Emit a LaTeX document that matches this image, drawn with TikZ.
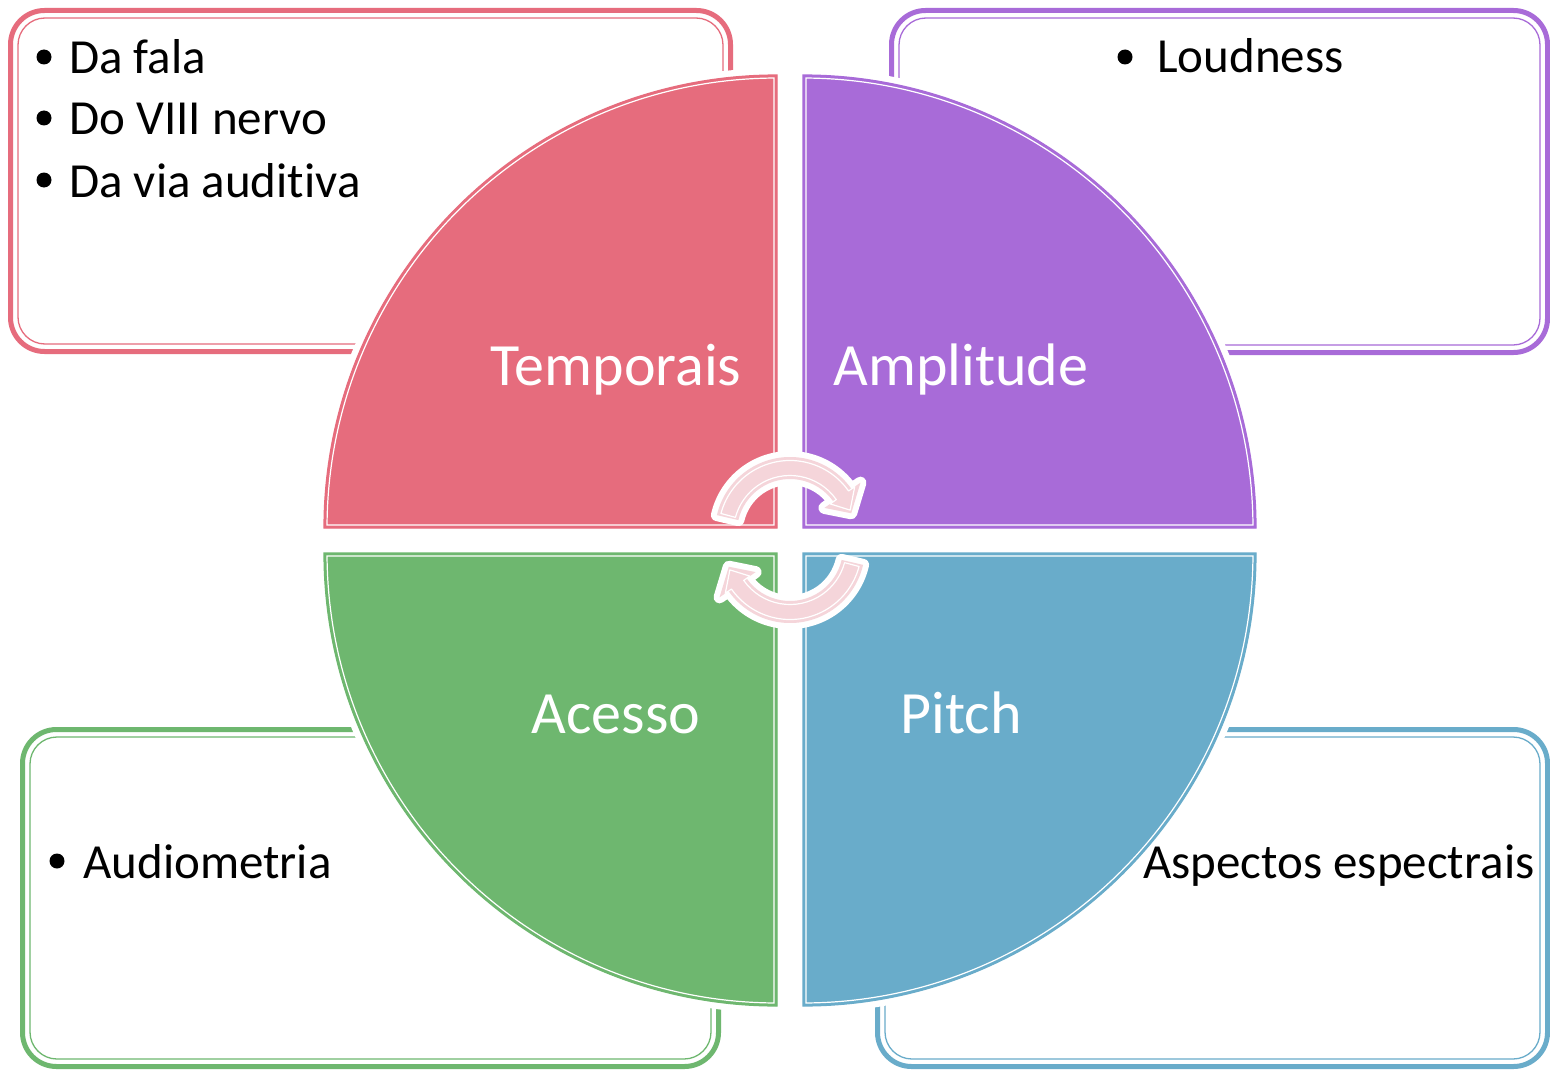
\documentclass[tikz,border=0pt]{standalone}
\usepackage{fontspec}
\setmainfont{Carlito}[Ligatures=NoCommon]
\usetikzlibrary{calc}

\definecolor{quadred}{HTML}{E66C7D}
\definecolor{quadpurple}{HTML}{A86BD8}
\definecolor{quadgreen}{HTML}{6EB76F}
\definecolor{quadblue}{HTML}{69ACCA}
\definecolor{arrowpink}{HTML}{F5D5DA}

\tikzset{
  boxtext/.style={anchor=base west, inner sep=0pt, text=black, font=\fontsize{49}{59}\selectfont},
  quadtext/.style={anchor=base, inner sep=0pt, text=white, font=\fontsize{60}{72}\selectfont},
  bulletdot/.style={circle, fill=black, inner sep=0pt, minimum size=15pt},
}

% rounded frame with a thick outer and a thin inner line
\newcommand\infobox[5]{%
  \draw[#1, line width=5pt, rounded corners=34pt] (#2+2.5,#3+2.5) rectangle (#4-2.5,#5-2.5);
  \draw[#1, line width=1.3pt, rounded corners=27pt] (#2+10,#3+10) rectangle (#4-10,#5-10);}

% quarter disc: apex, start angle, colour
\newcommand\quadrant[3]{%
  \path[draw=white, line width=14pt, line join=round]
    (#1) -- ($(#1)+(#2:453)$) arc[start angle=#2, end angle=#2+90, radius=453] -- cycle;
  \path[fill=#3, draw=#3, line width=1.2pt]
    (#1) -- ($(#1)+(#2:453)$) arc[start angle=#2, end angle=#2+90, radius=453] -- cycle;
  \draw[white, line width=1.2pt]
    ($(#1)+(#2+45:4.24)$) -- ($(#1)+(#2+0.38:450)$)
    arc[start angle=#2+0.38, end angle=#2+89.62, radius=450] -- cycle;}

% curved arrow outline: style, centre, start, end of band, outer r, inner r, wing, tip angle
\newcommand\arrowbody[8]{%
  \path[#1] ($(#2)+(#3:#5)$) arc[start angle=#3, end angle=#4, radius=#5]
    -- ($(#2)+(#4:{#5+#7})$) -- ($(#2)+(#8:{(#5+#6)/2})$) -- ($(#2)+(#4:{#6-#7})$)
    -- ($(#2)+(#4:#6)$) arc[start angle=#4, end angle=#3, radius=#6] -- cycle;}

\newcommand\cyclearrow[4]{% centre, start, end, tip angle
  \arrowbody{draw=white, line width=12pt, line join=round}{#1}{#2}{#3}{75}{53}{11}{#4}
  \arrowbody{fill=arrowpink}{#1}{#2}{#3}{75}{53}{11}{#4}
  \arrowbody{draw=white, line width=1.2pt, line join=round}{#1}{#2+2}{#3}{71.5}{56.5}{7.5}{#4-3}}

\begin{document}
\begin{tikzpicture}[x=1pt, y=-1pt]
  \useasboundingbox (0,0) rectangle (1550,1070);
  \fill[white] (0,0) rectangle (1550,1070);

  % side frames
  \infobox{quadred}{8}{8}{733}{354}
  \infobox{quadpurple}{889}{8}{1550}{355}
  \infobox{quadgreen}{20}{727}{721}{1069}
  \infobox{quadblue}{875}{727}{1550}{1069}

  % the four quarters
  \coordinate (apexTL) at (777,528);
  \coordinate (apexTR) at (803,528);
  \coordinate (apexBR) at (803,553);
  \coordinate (apexBL) at (777,553);
  \quadrant{apexTL}{180}{quadred}
  \quadrant{apexTR}{270}{quadpurple}
  \quadrant{apexBR}{0}{quadblue}
  \quadrant{apexBL}{90}{quadgreen}

  % frame contents
  \node[bulletdot] (b1) at (44,57) {};
  \node[boxtext] (t1) at (69,74) {Da fala};
  \node[bulletdot] (b2) at (44,118) {};
  \node[boxtext] (t2) at (69,135) {Do VIII nervo};
  \node[bulletdot] (b3) at (44,180) {};
  \node[boxtext] (t3) at (69,197) {Da via auditiva};
  \node[bulletdot] (b4) at (1125,57) {};
  \node[boxtext] (t4) at (1157,73) {Loudness};
  \node[bulletdot] (b5) at (57,861) {};
  \node[boxtext] (t5) at (83,878) {Audiometria};
  \node[boxtext] (t6) at (1143,878) {Aspectos espectrais};

  % quarter titles
  \node[quadtext] (q1) at (616,385) {Temporais};
  \node[quadtext] (q2) at (961,385) {Amplitude};
  \node[quadtext] (q3) at (616,733) {Acesso};
  \node[quadtext] (q4) at (961,733) {Pitch};

  % cycle arrows in the middle
  \coordinate (arcTop) at (790,532);
  \coordinate (arcBot) at (790,548);
  \cyclearrow{arcTop}{193}{325}{343}
  \cyclearrow{arcBot}{13}{145}{163}
\end{tikzpicture}
\end{document}
